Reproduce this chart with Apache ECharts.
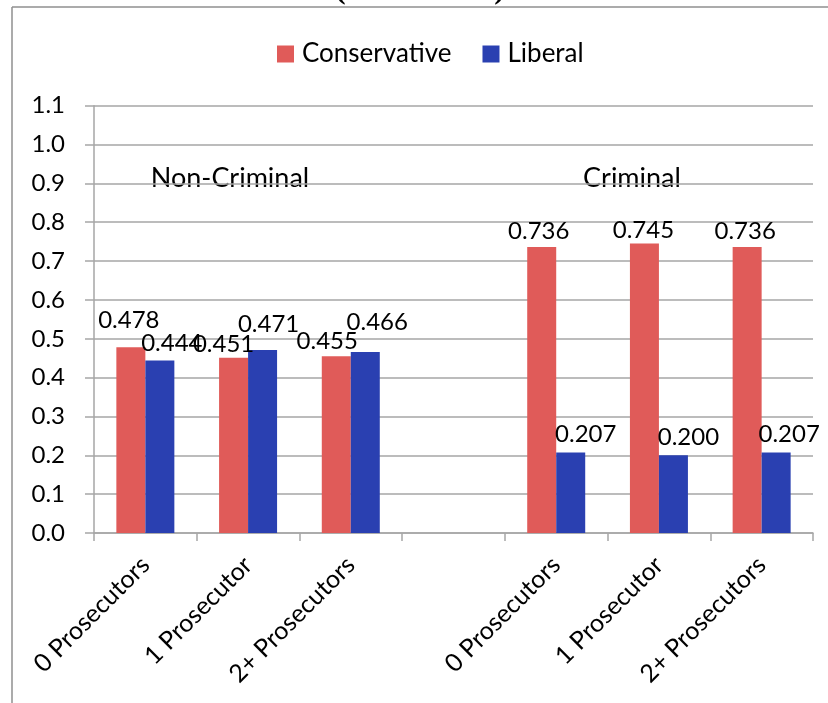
<!DOCTYPE html>
<html>
<head>
<meta charset="utf-8">
<script src="https://cdn.jsdelivr.net/npm/echarts@6/dist/echarts.min.js"></script>
<style>
  html, body { margin: 0; padding: 0; background: #fff; }
  #chart { width: 828px; height: 703px; }
</style>
</head>
<body>
<div id="chart"></div>
<script>
const categories = ['0 Prosecutors', '1 Prosecutor', '2+ Prosecutors', '', '0 Prosecutors', '1 Prosecutor', '2+ Prosecutors'];
const conservative = [0.478, 0.451, 0.455, null, 0.736, 0.745, 0.736];
const liberal = [0.444, 0.471, 0.466, null, 0.207, 0.200, 0.207];
const yTicks = [0, 0.1, 0.2, 0.3, 0.4, 0.5, 0.6, 0.7, 0.8, 0.9, 1.0, 1.1];

// hand-placed label nudges, like the original sheet
const consLabelShift = [[-2, -15], [-10, -2], [-9, -3], null, [-3, -4], [-1, -1], [-2, -4]];
const libLabelShift = [[12, -5], [6, -14], [12, -18], null, [15, -6], [15, -6], [13, -6]];

const FONT = 'Lato';
const RED = '#e05b59';
const BLUE = '#2a40b1';
const GRID_GRAY = '#a6a6a6';

function buildData(values, shifts) {
  return values.map((v, i) => ({
    value: v,
    label: shifts[i] ? { offset: shifts[i] } : undefined,
  }));
}

const valueLabel = {
  show: true,
  position: 'top',
  distance: 0,
  color: '#000',
  fontFamily: FONT,
  fontSize: 24,
  formatter: (p) => p.value.toFixed(3),
};

const chart = echarts.init(document.getElementById('chart'), null, { renderer: 'canvas' });

chart.setOption({
  animation: false,
  backgroundColor: '#fff',
  textStyle: { fontFamily: FONT },
  grid: { left: 94, right: 15, top: 105.7, bottom: 170 },
  legend: {
    top: 36,
    left: 272,
    itemWidth: 17,
    itemHeight: 17,
    itemGap: 31,
    icon: 'rect',
    textStyle: { fontFamily: FONT, fontSize: 26, color: '#000', padding: [0, 0, 0, 3] },
    data: ['Conservative', 'Liberal'],
  },
  xAxis: {
    type: 'category',
    data: categories,
    axisLine: { lineStyle: { color: GRID_GRAY, width: 1.5 } },
    axisTick: { show: true, interval: 0, length: 8, lineStyle: { color: GRID_GRAY, width: 1.5 } },
    axisLabel: {
      interval: 0,
      rotate: 45,
      margin: 28,
      color: '#000',
      fontFamily: FONT,
      fontSize: 25,
    },
  },
  yAxis: {
    type: 'value',
    min: 0,
    max: 1.1,
    interval: 0.1,
    axisLine: { show: true, lineStyle: { color: GRID_GRAY, width: 1.5 } },
    axisTick: { show: true, length: 9, lineStyle: { color: GRID_GRAY, width: 1.5 } },
    axisLabel: {
      margin: 29,
      color: '#000',
      fontFamily: FONT,
      fontSize: 24,
      formatter: (v) => {
        const t = yTicks.find((y) => Math.abs(y - v) < 1e-6);
        return (t === undefined ? v : t).toFixed(1);
      },
    },
    splitLine: { lineStyle: { color: GRID_GRAY, width: 1.5 } },
  },
  series: [
    {
      name: 'Conservative',
      type: 'bar',
      data: buildData(conservative, consLabelShift),
      barWidth: 29,
      barGap: '0%',
      itemStyle: { color: RED },
      label: valueLabel,
    },
    {
      name: 'Liberal',
      type: 'bar',
      data: buildData(liberal, libLabelShift),
      barWidth: 29,
      barGap: '0%',
      itemStyle: { color: BLUE },
      label: valueLabel,
    },
  ],
  graphic: [
    {
      type: 'line',
      shape: { x1: 12, y1: 7, x2: 828, y2: 7 },
      style: { stroke: '#8f8f8f', lineWidth: 1.5 },
    },
    {
      type: 'line',
      shape: { x1: 12, y1: 7, x2: 12, y2: 703 },
      style: { stroke: '#8f8f8f', lineWidth: 1.5 },
    },
    {
      type: 'text',
      x: 420,
      y: 6,
      style: {
        text: '(Prosecutor)',
        font: 'bold 32px "Liberation Serif"',
        fill: '#000',
        align: 'center',
        verticalAlign: 'bottom',
      },
    },
    {
      type: 'text',
      x: 230,
      y: 178,
      style: {
        text: 'Non-Criminal',
        font: '27px ' + FONT,
        fill: '#000',
        align: 'center',
        verticalAlign: 'middle',
      },
    },
    {
      type: 'text',
      x: 632,
      y: 178,
      style: {
        text: 'Criminal',
        font: '27px ' + FONT,
        fill: '#000',
        align: 'center',
        verticalAlign: 'middle',
      },
    },
  ],
});
</script>
</body>
</html>
